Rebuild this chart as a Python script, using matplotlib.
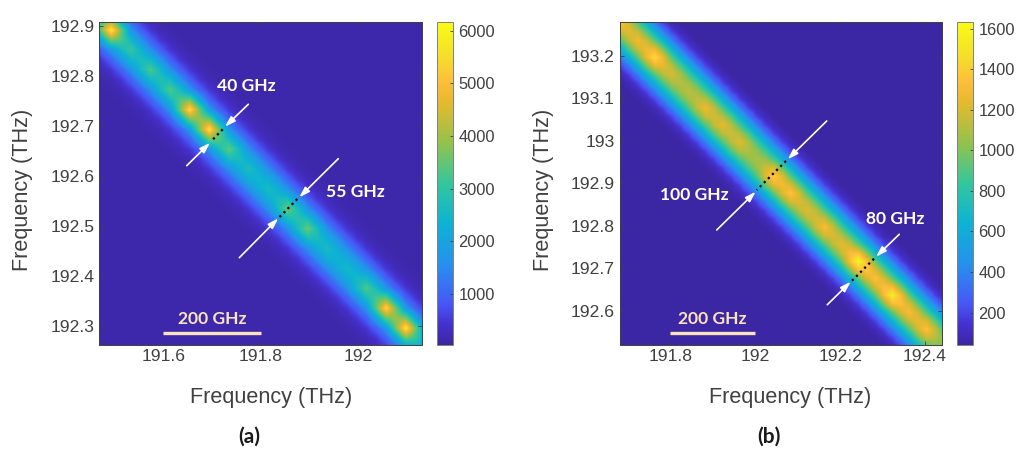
import numpy as np
import matplotlib
matplotlib.use("Agg")
import matplotlib.pyplot as plt
from matplotlib.colors import LinearSegmentedColormap

W, H = 1017, 457

# ---------- data ----------
# (a) channel positions and peak levels along the ridge
a_x = [191.494, 191.534, 191.575, 191.615, 191.655, 191.695, 191.736, 191.776,
       191.816, 191.857, 191.897, 191.937, 191.977, 192.018, 192.058, 192.098]
a_y = [192.893, 192.853, 192.813, 192.774, 192.734, 192.694, 192.654, 192.614,
       192.575, 192.535, 192.495, 192.455, 192.415, 192.376, 192.336, 192.296]
a_peak = [5900, 3100, 3300, 3350, 5600, 5700, 3500, 2700,
          2650, 3600, 3600, 2650, 2550, 3350, 5500, 5800]
a_ridge = 2200
a_floor = 110
a_xlim = (191.469, 192.131)
a_ylim = (192.262, 192.909)
a_clim = (36, 6171)
a_xticks = [191.6, 191.8, 192.0]
a_xticklabels = ["191.6", "191.8", "192"]
a_yticks = [192.3, 192.4, 192.5, 192.6, 192.7, 192.8, 192.9]
a_yticklabels = ["192.3", "192.4", "192.5", "192.6", "192.7", "192.8", "192.9"]
a_cticks = [1000, 2000, 3000, 4000, 5000, 6000]

# (b)
b_x = [191.681, 191.721, 191.761, 191.801, 191.841, 191.881, 191.921, 191.961, 192.001,
       192.041, 192.081, 192.121, 192.161, 192.201, 192.241, 192.281, 192.321, 192.361, 192.401]
b_y = [193.276, 193.236, 193.196, 193.156, 193.116, 193.076, 193.036, 192.996, 192.956,
       192.916, 192.876, 192.836, 192.796, 192.756, 192.716, 192.676, 192.636, 192.597, 192.557]
b_peak = [1330, 1270, 1460, 1190, 1130, 1270, 1240, 1220, 1070,
          1400, 1350, 1220, 1310, 1230, 1590, 1320, 1540, 1300, 1350]
b_ridge = 980
b_floor = 40
b_xlim = (191.679, 192.440)
b_ylim = (192.520, 193.279)
b_clim = (42, 1634)
b_xticks = [191.8, 192.0, 192.2, 192.4]
b_xticklabels = ["191.8", "192", "192.2", "192.4"]
b_yticks = [192.6, 192.7, 192.8, 192.9, 193.0, 193.1, 193.2]
b_yticklabels = ["192.6", "192.7", "192.8", "192.9", "193", "193.1", "193.2"]
b_cticks = [200, 400, 600, 800, 1000, 1200, 1400, 1600]

# ---------- colormap (parula-like) ----------
parula = LinearSegmentedColormap.from_list("parula_like", [
    (0.000, (0.235, 0.150, 0.640)),
    (0.060, (0.270, 0.190, 0.800)),
    (0.125, (0.280, 0.340, 0.970)),
    (0.250, (0.150, 0.570, 0.930)),
    (0.375, (0.050, 0.700, 0.830)),
    (0.500, (0.200, 0.780, 0.610)),
    (0.625, (0.580, 0.760, 0.300)),
    (0.750, (0.900, 0.725, 0.180)),
    (0.815, (0.995, 0.745, 0.230)),
    (0.900, (0.960, 0.880, 0.160)),
    (1.000, (0.977, 0.984, 0.080)),
])


def band_image(px, py, peak, ridge, floor, xlim, ylim, st, power, st2, sp):
    """Heat map on a half-channel grid: a ridge through the channels plus one bump per channel."""
    px, py, peak = map(np.asarray, (px, py, peak))
    dx = (px[-1] - px[0]) / (len(px) - 1) / 2
    dy = (py[0] - py[-1]) / (len(py) - 1) / 2
    xg = px[0] + dx * np.arange(np.floor((xlim[0] - px[0]) / dx) - 1, np.ceil((xlim[1] - px[0]) / dx) + 2)
    yg = py[-1] + dy * np.arange(np.floor((ylim[0] - py[-1]) / dy) - 1, np.ceil((ylim[1] - py[-1]) / dy) + 2)
    X, Y = np.meshgrid(xg, yg)
    slope = (py[-1] - py[0]) / (px[-1] - px[0])
    T = ((Y - py[0]) - slope * (X - px[0])) / np.sqrt(1 + slope ** 2)
    Z = floor + (ridge - floor) * np.exp(-np.abs(T / st) ** power / 2)
    for cx, cy, a in zip(px, py, peak):
        r2 = (X - cx) ** 2 + (Y - cy) ** 2
        Z += (a - ridge) * np.exp(-r2 / (2 * sp ** 2)) * np.exp(-T ** 2 / (2 * st2 ** 2))
    return Z, xg, yg, dx, dy


plt.rcParams["font.family"] = ["Liberation Sans", "DejaVu Sans"]
fig = plt.figure(figsize=(W / 100, H / 100), dpi=100, facecolor="white")


def px_axes(x0, y0, x1, y1):
    return fig.add_axes([x0 / W, 1 - y1 / H, (x1 - x0) / W, (y1 - y0) / H])


GREY = "#404040"


def panel(box, cbox, data, xlim, ylim, clim, xt, xtl, yt, ytl, ct):
    Z, xg, yg, dx, dy = data
    ax = px_axes(*box)
    im = ax.imshow(Z, origin="lower", aspect="auto", cmap=parula, vmin=clim[0], vmax=clim[1],
                   interpolation="bilinear",
                   extent=[xg[0] - dx / 2, xg[-1] + dx / 2, yg[0] - dy / 2, yg[-1] + dy / 2])
    ax.set_xlim(*xlim)
    ax.set_ylim(*ylim)
    ax.set_xticks(xt, xtl)
    ax.set_yticks(yt, ytl)
    ax.tick_params(direction="in", length=3, width=0.6, top=True, right=True, color=GREY,
                   labelsize=12.6, labelcolor=GREY, pad=3.5)
    for s in ax.spines.values():
        s.set_linewidth(0.7)
        s.set_color(GREY)
    cax = px_axes(*cbox)
    cb = fig.colorbar(im, cax=cax)
    cb.set_ticks(ct)
    cb.ax.tick_params(direction="in", length=2.5, width=0.6, color=GREY, labelsize=11.8,
                      labelcolor=GREY, pad=4)
    cb.outline.set_linewidth(0.7)
    cb.outline.set_edgecolor("#808080")
    return ax


Da = band_image(a_x, a_y, a_peak, a_ridge, a_floor, a_xlim, a_ylim, 0.032, 2.2, 0.025, 0.017)
Db = band_image(b_x, b_y, b_peak, b_ridge, b_floor, b_xlim, b_ylim, 0.043, 2.6, 0.032, 0.021)

panel((99.3, 22, 422, 344.5), (437, 21.7, 452.7, 344.7), Da, a_xlim, a_ylim, a_clim,
      a_xticks, a_xticklabels, a_yticks, a_yticklabels, a_cticks)
panel((619.5, 22, 942, 344.5), (957, 21.7, 973, 344.7), Db, b_xlim, b_ylim, b_clim,
      b_xticks, b_xticklabels, b_yticks, b_yticklabels, b_cticks)

# ---------- overlay in pixel coordinates ----------
ov = fig.add_axes([0, 0, 1, 1], facecolor="none", zorder=10)
ov.set_xlim(0, W)
ov.set_ylim(H, 0)
ov.axis("off")

arrows = [((248.3, 104.3), (225, 126.7)), ((186.7, 165.7), (210, 142.7)),
          ((338.3, 158.7), (299.3, 197.3)), ((239.3, 257.7), (278.3, 218.3)),
          ((826.7, 121), (787.7, 159.3)), ((716.7, 230), (755.7, 191.7)),
          ((899.3, 234.3), (876, 256.7)), ((827.3, 304.7), (850.7, 281.7))]
for start, tip in arrows:
    ov.annotate("", xy=tip, xytext=start,
                arrowprops=dict(arrowstyle="-|>,head_length=0.62,head_width=0.2", color="white",
                                lw=1.2, shrinkA=0, shrinkB=0))

dotted = [((222.7, 129.3), (210.7, 141.7)), ((297.3, 199), (279.3, 217.3)),
          ((786, 161), (756.7, 190)), ((874, 258.7), (852, 280.7))]
for p, q in dotted:
    ov.plot([p[0], q[0]], [p[1], q[1]], color="black", lw=1.6, dashes=(1, 1.6))

CREAM = "#FBE3BC"
for x0, x1 in [(163, 261), (669.7, 755.3)]:
    ov.plot([x0, x1], [333, 333], color=CREAM, lw=2.4, solid_capstyle="butt")

bold = dict(family=["Lato", "DejaVu Sans"], fontweight="bold", ha="center", va="center")
for x, y, s in [(212, 319, "200 GHz"), (712.7, 319, "200 GHz")]:
    ov.text(x, y, s, color=CREAM, fontsize=12.6, **bold)
for x, y, s in [(246.7, 86, "40 GHz"), (355.7, 191.7, "55 GHz"),
                (694.3, 194.7, "100 GHz"), (895, 219, "80 GHz")]:
    ov.text(x, y, s, color="white", fontsize=12.6, **bold)
for x, s in [(249, "(a)"), (769, "(b)")]:
    ov.text(x, 437, s, color="#1a1a1a", fontsize=15, **bold)

for x, y, rot in [(271, 397, 0), (790, 397, 0), (23, 190, 90), (543, 190, 90)]:
    ov.text(x, y, "Frequency (THz)", color=GREY, fontsize=15.6, rotation=rot,
            ha="center", va="center")

fig.savefig("out.png", dpi=100, facecolor="white")
